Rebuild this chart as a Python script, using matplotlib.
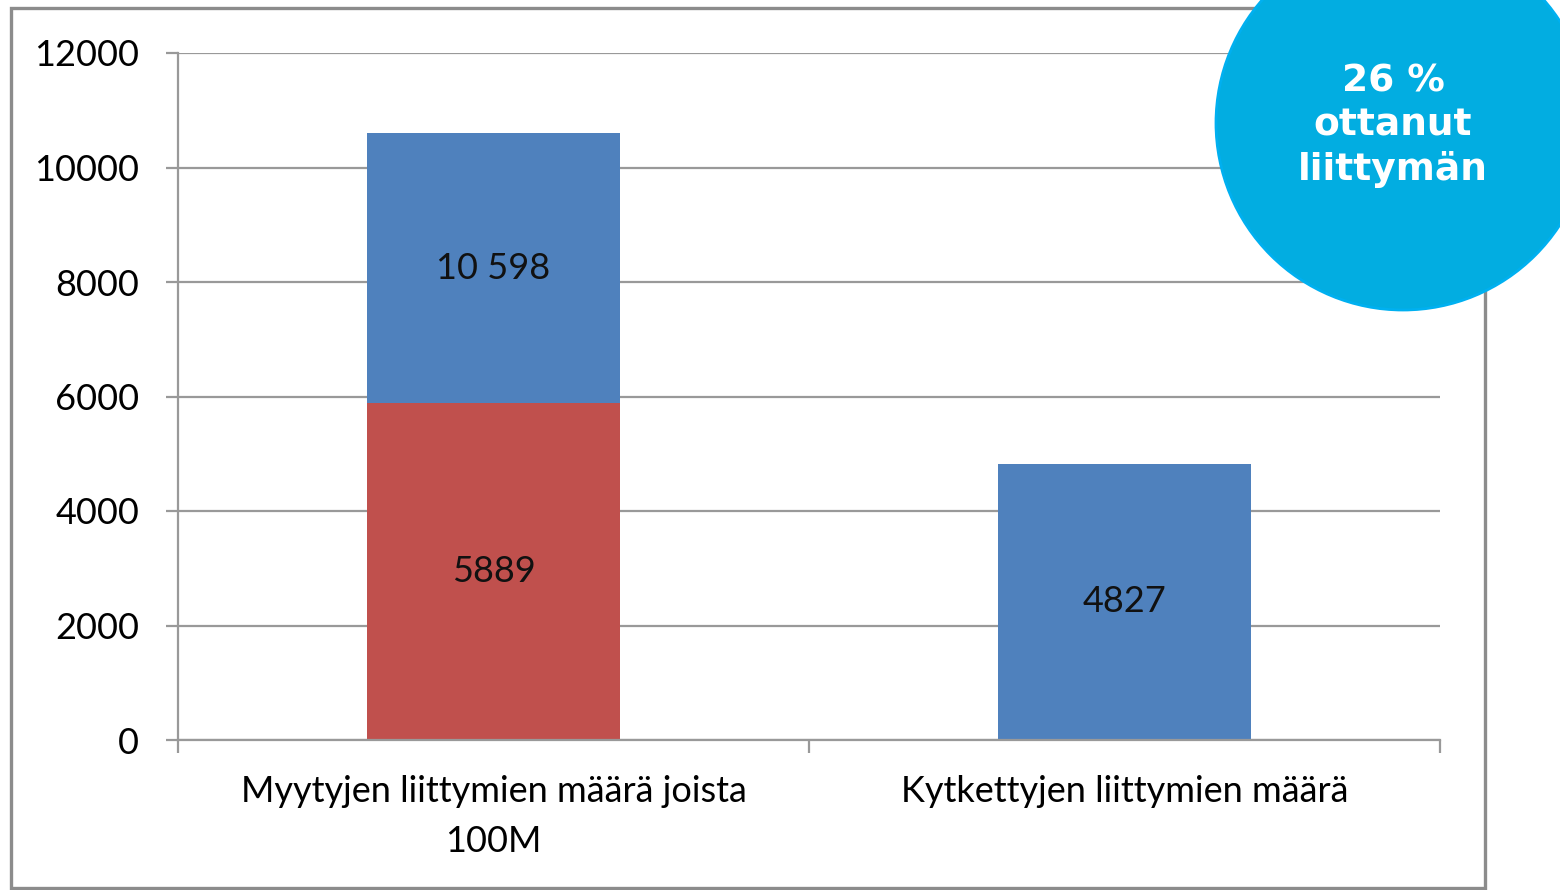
import matplotlib
matplotlib.use('Agg')
import matplotlib.pyplot as plt
from matplotlib.patches import Circle, Rectangle

# data
categories = ['Myytyjen liittymien määrä joista\n100M', 'Kytkettyjen liittymien määrä']
totals = [10598, 4827]
fast_100m = [5889, 0]
labels_top = ['10 598', '4827']
labels_bottom = ['5889', '']
badge_text = '26 %\nottanut\nliittymän'

plt.rcParams['font.family'] = ['Lato', 'DejaVu Sans']

fig = plt.figure(figsize=(15.6, 8.9), dpi=100)
ax = fig.add_axes([178 / 1560, 1 - 740 / 890, (1440 - 178) / 1560, (740 - 53) / 890])

x = list(range(len(categories)))
rest = [t - f for t, f in zip(totals, fast_100m)]
ax.bar(x, fast_100m, width=0.4, color='#C0504D', zorder=2)
ax.bar(x, rest, width=0.4, bottom=fast_100m, color='#4F81BD', zorder=2)

for i in x:
    ax.text(i, fast_100m[i] + rest[i] / 2, labels_top[i], ha='center', va='center',
            fontsize=26, color='#111111', zorder=3)
    if labels_bottom[i]:
        ax.text(i, fast_100m[i] / 2, labels_bottom[i], ha='center', va='center',
                fontsize=26, color='#111111', zorder=3)

ax.set_xlim(-0.5, 1.5)
ax.set_ylim(0, 12000)
ax.set_yticks(range(0, 12001, 2000))
ax.yaxis.grid(True, color='#999999', linewidth=1.6, zorder=0)
ax.set_axisbelow(True)

ax.set_xticks(x)
ax.set_xticklabels(categories, fontsize=26, linespacing=1.65)
ax.set_xticks([-0.5, 0.5, 1.5], minor=True)
ax.tick_params(axis='x', which='major', length=0, pad=25)
ax.tick_params(axis='x', which='minor', length=9, width=1.6, color='#999999')
ax.tick_params(axis='y', length=9, width=1.6, color='#999999', labelsize=26, pad=19)

for s in ['top', 'right']:
    ax.spines[s].set_visible(False)
for s in ['left', 'bottom']:
    ax.spines[s].set_color('#999999')
    ax.spines[s].set_linewidth(1.6)

# outer frame
frame = Rectangle((11 / 1560, 2 / 890), (1485 - 11) / 1560, (888 - 8) / 890,
                  transform=fig.transFigure, fill=False, edgecolor='#8c8c8c',
                  linewidth=2.4, zorder=2)
fig.patches.append(frame)

# badge
badge = Circle((14.03, 8.9 - 1.23), 1.87, transform=fig.dpi_scale_trans,
               facecolor='#02ADE1', edgecolor='#00B0F0', linewidth=2, zorder=3)
fig.patches.append(badge)
fig.text(1393 / 1560, 1 - 126 / 890, badge_text, ha='center', va='center',
         fontsize=27, fontweight='bold', color='white', family='DejaVu Sans',
         linespacing=1.27, zorder=4)

fig.savefig('out.png', dpi=100)
